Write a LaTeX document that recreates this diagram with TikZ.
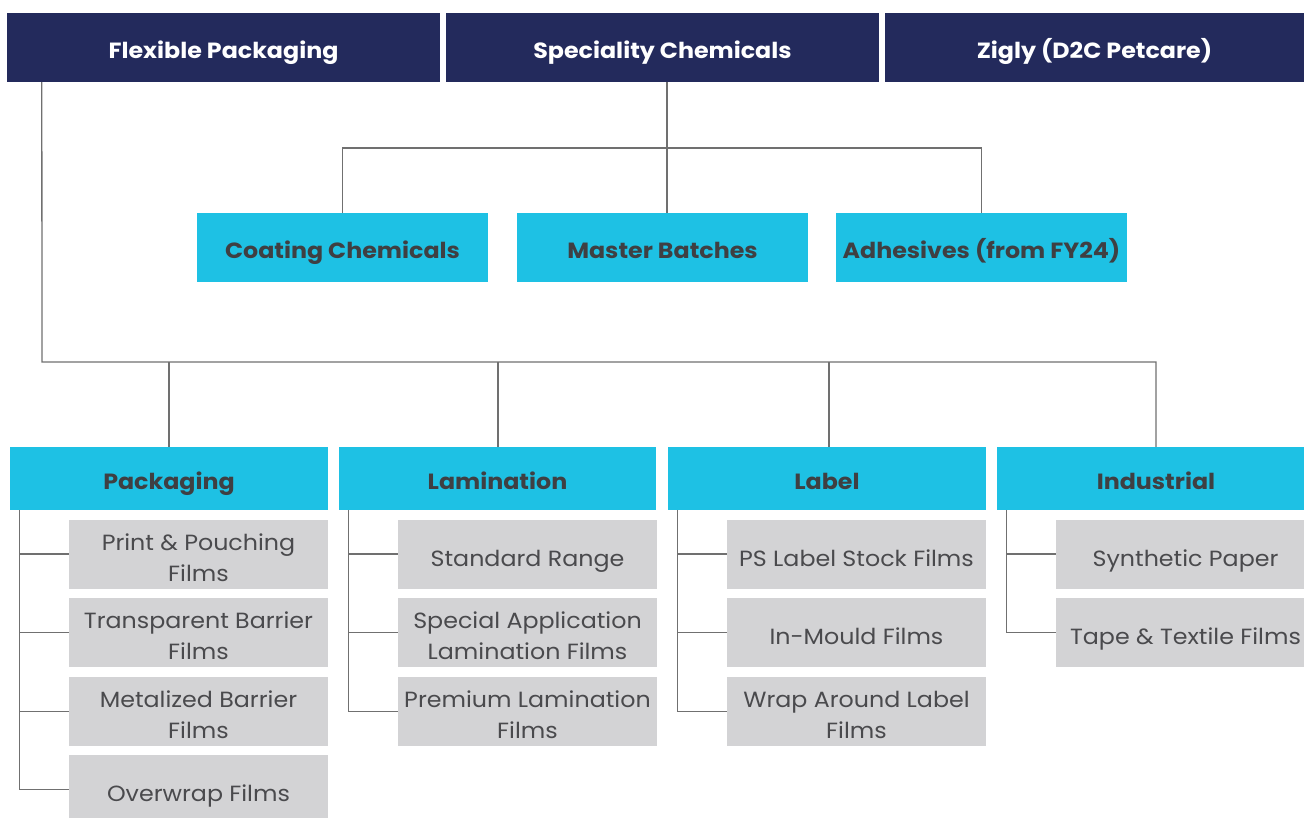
\documentclass[tikz,border=0pt]{standalone}
\usepackage{fontspec}
\setmainfont{Poppins}[FakeStretch=1.08]
\definecolor{navy}{HTML}{232A5C}
\definecolor{cyanbox}{HTML}{1EC1E4}
\definecolor{greybox}{HTML}{D3D3D5}
\definecolor{txtdark}{HTML}{3F3F42}
\definecolor{txtitem}{HTML}{4A4A4D}
\definecolor{linegrey}{HTML}{707070}
\begin{document}
\begin{tikzpicture}[x=1pt,y=-1pt,
  boldtext/.style={font=\fontsize{22}{26}\selectfont\bfseries,text height=22pt,text depth=0pt},
  topbox/.style={boldtext,fill=navy,text=white,minimum height=69pt,inner sep=0pt},
  midbox/.style={boldtext,fill=cyanbox,text=txtdark,minimum width=291pt,minimum height=69pt,inner sep=0pt},
  catbox/.style={boldtext,fill=cyanbox,text=txtdark,minimum height=63pt,inner sep=0pt},
  itembox/.style={fill=greybox,text=txtitem,font=\fontsize{22}{31}\selectfont,minimum width=259pt,minimum height=69pt,inner sep=0pt,align=center,text height=24pt,text depth=0pt},
  twoline/.style={text height=54pt,text depth=0pt},
  conn/.style={draw=linegrey,line width=1.3pt}]
\useasboundingbox (0,0) rectangle (1304,818);
\clip (0,0) rectangle (1304,818);
% top row
\node[topbox,minimum width=433pt] (fp) at (223.5,47.5) {Flexible Packaging};
\node[topbox,minimum width=433pt] (sc) at (662.5,47.5) {Speciality Chemicals};
\node[topbox,minimum width=419pt] (zg) at (1094.5,47.5) {Zigly (D2C Petcare)};
% speciality chemicals children
\node[midbox] (coat) at (342.5,247.5) {Coating Chemicals};
\node[midbox] (mb) at (662.5,247.5) {Master Batches};
\node[midbox] (adh) at (981.5,247.5) {Adhesives (from FY24)};
\draw[conn] ([xshift=4.5pt]sc.south) -- ([xshift=4.5pt]mb.north);
\coordinate (scbar) at (667,148);
\draw[conn] (coat.north) |- (scbar) -| (adh.north);
% flexible packaging categories
\node[catbox,minimum width=318pt] (pk) at (169,478.5) {Packaging};
\node[catbox,minimum width=317pt] (lm) at (497.5,478.5) {Lamination};
\node[catbox,minimum width=318pt] (lb) at (827,478.5) {Label};
\node[catbox,minimum width=318pt] (in) at (1156,478.5) {Industrial};
\coordinate (fpbar) at (42,362);
\draw[conn] ([xshift=35pt]fp.south west) -- (fpbar) -| (in.north);
\draw[conn] (pk.north) -- (pk.north |- fpbar);
\draw[conn] ([xshift=0.5pt]lm.north) -- ([xshift=0.5pt]lm.north |- fpbar);
\draw[conn] ([xshift=2pt]lb.north) -- ([xshift=2pt]lb.north |- fpbar);
% items: Packaging
\node[itembox,twoline] (p1) at (198.5,554) {Print \& Pouching\\Films};
\node[itembox,twoline] (p2) at (198.5,632.5) {Transparent Barrier\\Films};
\node[itembox,twoline] (p3) at (198.5,711.5) {Metalized Barrier\\Films};
\node[itembox] (p4) at (198.5,789.5) {Overwrap Films};
% items: Lamination
\node[itembox] (l1) at (527.5,554) {Standard Range};
\node[itembox,twoline] (l2) at (527.5,632.5) {Special Application\\Lamination Films};
\node[itembox,twoline] (l3) at (527.5,711.5) {Premium Lamination\\Films};
% items: Label
\node[itembox] (b1) at (856.5,554) {PS Label Stock Films};
\node[itembox] (b2) at (856.5,632.5) {In-Mould Films};
\node[itembox,twoline] (b3) at (856.5,711.5) {Wrap Around Label\\Films};
% items: Industrial
\node[itembox] (i1) at (1185.5,554) {Synthetic Paper};
\node[itembox] (i2) at (1185.5,632.5) {Tape \& Textile Films};
% branch lines
\draw[conn] ([xshift=10pt]pk.south west) |- (p4.west);
\foreach \n in {p1,p2,p3} \draw[conn] (\n.west) -- ++(-49,0);
\draw[conn] ([xshift=10pt]lm.south west) |- (l3.west);
\foreach \n in {l1,l2} \draw[conn] (\n.west) -- ++(-49,0);
\draw[conn] ([xshift=10pt]lb.south west) |- (b3.west);
\foreach \n in {b1,b2} \draw[conn] (\n.west) -- ++(-49,0);
\draw[conn] ([xshift=10pt]in.south west) |- (i2.west);
\draw[conn] (i1.west) -- ++(-49,0);
\end{tikzpicture}
\end{document}
